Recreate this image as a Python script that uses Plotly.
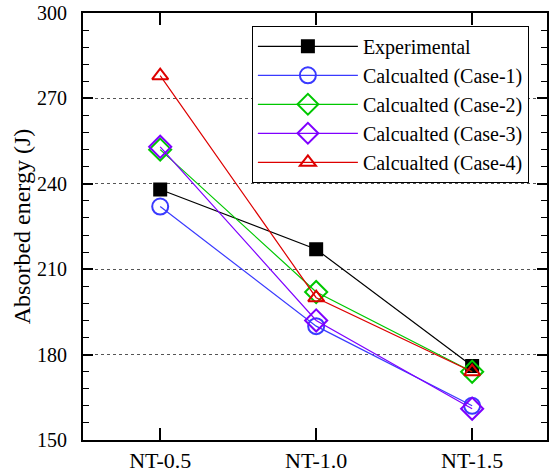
import plotly.graph_objects as go

categories = ["NT-0.5", "NT-1.0", "NT-1.5"]
experimental = [238, 217, 176]
case1 = [232, 190, 162]
case2 = [252, 202, 174]
case3 = [253, 192, 161]
case4 = [278, 200, 174]

series = [
    ("Experimental", experimental, "#000000", "square", 12),
    ("Calcualted (Case-1)", case1, "#3a3aff", "circle-open", 16),
    ("Calcualted (Case-2)", case2, "#00c800", "diamond-open", 17),
    ("Calcualted (Case-3)", case3, "#7f00ff", "diamond-open", 17),
    ("Calcualted (Case-4)", case4, "#dd0000", "triangle-up-open", 14),
]

fig = go.Figure()
for name, vals, color, sym, size in series:
    fig.add_trace(go.Scatter(
        x=[0, 1, 2], y=vals, name=name, mode="lines+markers",
        line=dict(color=color, width=1.2),
        marker=dict(symbol=sym, size=size, color=color, line=dict(color=color, width=2)),
    ))

font = "Liberation Serif"
fig.update_layout(
    width=552, height=472,
    margin=dict(l=83, r=5, t=13, b=32, autoexpand=False),
    paper_bgcolor="white", plot_bgcolor="white",
    font=dict(family=font, size=20, color="black"),
    showlegend=True,
    legend=dict(
        x=0.364, y=0.97, xanchor="left", yanchor="top",
        bgcolor="white", bordercolor="black", borderwidth=1,
        font=dict(family=font, size=20), itemwidth=100,
        tracegroupgap=0,
    ),
    xaxis=dict(
        range=[-0.495, 2.48], tickmode="array", tickvals=[0, 1, 2], ticktext=categories,
        showline=True, linecolor="black", linewidth=2, mirror="allticks",
        ticks="inside", ticklen=12, tickwidth=1.5, tickcolor="black",
        showgrid=False, zeroline=False, automargin=False, ticklabelstandoff=0,
        tickfont=dict(family=font, size=22),
    ),
    yaxis=dict(
        range=[150, 300], tickvals=[150, 180, 210, 240, 270, 300],
        showline=True, linecolor="black", linewidth=2, mirror="allticks",
        ticks="inside", ticklen=10, tickwidth=1.5, tickcolor="black",
        minor=dict(dtick=6, ticks="inside", ticklen=6, tickcolor="black", tickwidth=1, showgrid=False),
        showgrid=True, gridcolor="#555555", griddash="dot", gridwidth=1,
        zeroline=False, automargin=False, ticklabelstandoff=10,
        tickfont=dict(family=font, size=20),
        title=dict(text="Absorbed energy (J)", font=dict(family=font, size=24), standoff=0),
    ),
)

fig.write_html("out.html", config={"displayModeBar": False},
               post_script="document.body.style.margin='0';")
